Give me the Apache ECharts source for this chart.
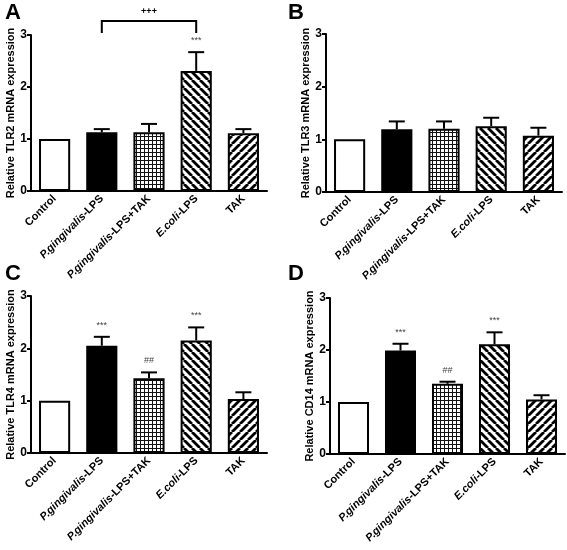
<!DOCTYPE html>
<html>
<head>
<meta charset="utf-8">
<script src="https://cdn.jsdelivr.net/npm/echarts@6/dist/echarts.min.js"></script>
<style>html,body{margin:0;padding:0;background:#fff;}#c{width:567px;height:550px;}</style>
</head>
<body>
<div id="c"></div>
<script>
// ---- data ----
const categories = ['Control', 'P.gingivalis-LPS', 'P.gingivalis-LPS+TAK', 'E.coli-LPS', 'TAK'];
const tlr2 = [1.00, 1.13, 1.13, 2.31, 1.11];
const tlr2Err = [0, 0.06, 0.16, 0.36, 0.08];
const tlr2Marks = ['', '', '', '***', ''];
const tlr3 = [1.00, 1.19, 1.20, 1.25, 1.07];
const tlr3Err = [0, 0.15, 0.14, 0.16, 0.15];
const tlr3Marks = ['', '', '', '', ''];
const tlr4 = [1.00, 2.05, 1.43, 2.15, 1.03];
const tlr4Err = [0, 0.17, 0.11, 0.25, 0.13];
const tlr4Marks = ['', '***', '##', '***', ''];
const cd14 = [1.00, 1.99, 1.35, 2.11, 1.05];
const cd14Err = [0, 0.13, 0.04, 0.23, 0.08];
const cd14Marks = ['', '***', '##', '***', ''];
const yTitles = ['Relative TLR2 mRNA expression', 'Relative TLR3 mRNA expression',
                 'Relative TLR4 mRNA expression', 'Relative CD14 mRNA expression'];
const panelLetters = ['A', 'B', 'C', 'D'];
const bracketA = { from: 1, to: 3, top: 3.27, bottom: 3.04, text: '+++' };

// ---- patterns ----
function stripe(dir) {
  const s = 8, c = document.createElement('canvas');
  c.width = s; c.height = s;
  const g = c.getContext('2d');
  g.fillStyle = '#fff'; g.fillRect(0, 0, s, s);
  g.strokeStyle = '#000'; g.lineWidth = 2.8;
  for (const x0 of [-s, 0, s]) {
    g.beginPath();
    if (dir === 'back') { g.moveTo(x0, 0); g.lineTo(x0 + s, s); }
    else { g.moveTo(x0, s); g.lineTo(x0 + s, 0); }
    g.stroke();
  }
  return { image: c, repeat: 'repeat' };
}
function gridPat() {
  const s = 4, c = document.createElement('canvas');
  c.width = s; c.height = s;
  const g = c.getContext('2d');
  g.fillStyle = '#fff'; g.fillRect(0, 0, s, s);
  g.fillStyle = '#111';
  g.fillRect(0, 0, s, 1); g.fillRect(0, 0, 1, s);
  return { image: c, repeat: 'repeat' };
}
const fills = ['#ffffff', '#000000', gridPat(), stripe('back'), stripe('fwd')];

const panels = [
  { vals: tlr2, err: tlr2Err, marks: tlr2Marks, grid: { left: 31, top: 35, width: 236, height: 156 } },
  { vals: tlr3, err: tlr3Err, marks: tlr3Marks, grid: { left: 326, top: 34, width: 236, height: 158 } },
  { vals: tlr4, err: tlr4Err, marks: tlr4Marks, grid: { left: 31, top: 296, width: 236, height: 157 } },
  { vals: cd14, err: cd14Err, marks: cd14Marks, grid: { left: 330, top: 298, width: 235, height: 156 } }
];

const FONT = 'Liberation Sans, Arial, sans-serif';
const grids = [], xAxes = [], yAxes = [], series = [];

panels.forEach((p, i) => {
  grids.push(Object.assign({ containLabel: false }, p.grid));
  xAxes.push({
    type: 'category', gridIndex: i, data: categories,
    axisLine: { lineStyle: { color: '#000', width: 2 } },
    axisTick: { show: false },
    axisLabel: {
      rotate: 45, interval: 0, margin: 6, color: '#000',
      fontFamily: FONT, fontWeight: 'bold', fontSize: 11,
      formatter: v => {
        if (v.startsWith('P.gingivalis')) return '{i|P.gingivalis}' + v.slice(12);
        if (v.startsWith('E.coli')) return '{i|E.coli}' + v.slice(6);
        return v;
      },
      rich: { i: { fontStyle: 'italic', fontWeight: 'bold', fontSize: 11, fontFamily: FONT, color: '#000' } }
    }
  });
  yAxes.push({
    type: 'value', gridIndex: i, min: 0, max: 3, interval: 1,
    name: yTitles[i], nameLocation: 'middle', nameGap: 14,
    nameTextStyle: { fontFamily: FONT, fontWeight: 'bold', fontSize: 11, color: '#000' },
    splitLine: { show: false },
    axisLine: { show: true, lineStyle: { color: '#000', width: 2 } },
    axisTick: { show: true, length: 4, lineStyle: { color: '#000', width: 2 } },
    axisLabel: { color: '#000', fontFamily: FONT, fontWeight: 'bold', fontSize: 12, margin: 4 }
  });
  series.push({
    type: 'bar', xAxisIndex: i, yAxisIndex: i, barWidth: '66%',
    data: p.vals.map((v, k) => ({ value: v, itemStyle: { color: fills[k], borderColor: '#000', borderWidth: 2 } })),
    animation: false, z: 2
  });
  series.push({
    type: 'custom', xAxisIndex: i, yAxisIndex: i, z: 3, animation: false,
    data: p.vals.map((v, k) => [k, v, p.err[k], p.marks[k]]),
    renderItem: (params, api) => {
      const idx = params.dataIndex;
      const k = api.value(0), v = api.value(1), e = api.value(2);
      const mark = p.marks[idx];
      const children = [];
      const p0 = api.coord([k, v]);
      const p1 = api.coord([k, v + e]);
      if (e > 0) {
        children.push({ type: 'line', shape: { x1: p0[0], y1: p0[1], x2: p1[0], y2: p1[1] }, style: { stroke: '#000', lineWidth: 2 } });
        children.push({ type: 'line', shape: { x1: p1[0] - 8, y1: p1[1], x2: p1[0] + 8, y2: p1[1] }, style: { stroke: '#000', lineWidth: 2 } });
      }
      if (mark) {
        children.push({ type: 'text', style: { text: mark, x: p1[0], y: p1[1] - 7, align: 'center', verticalAlign: 'bottom', fill: '#444', font: '9px ' + FONT } });
      }
      return { type: 'group', children };
    }
  });
});

// bracket in panel A
series.push({
  type: 'custom', xAxisIndex: 0, yAxisIndex: 0, z: 3, animation: false, clip: false,
  data: [[bracketA.from, bracketA.to, bracketA.top, bracketA.bottom]],
  renderItem: (params, api) => {
    const a = api.coord([api.value(0), api.value(2)]);
    const b = api.coord([api.value(1), api.value(2)]);
    const yb = api.coord([api.value(0), api.value(3)])[1];
    return { type: 'group', children: [
      { type: 'polyline', shape: { points: [[a[0], yb], [a[0], a[1]], [b[0], b[1]], [b[0], yb]] }, style: { stroke: '#000', lineWidth: 2, fill: null } },
      { type: 'text', style: { text: bracketA.text, x: (a[0] + b[0]) / 2, y: a[1] - 5, align: 'center', verticalAlign: 'bottom', fill: '#000', font: 'bold 9px ' + FONT } }
    ] };
  }
});

const letterPos = [[5, 2], [288, 2], [5, 263], [288, 263]];
const graphic = panelLetters.map((t, i) => ({
  type: 'text', left: letterPos[i][0], top: letterPos[i][1],
  style: { text: t, font: 'bold 22px ' + FONT, fill: '#000' }
}));

const chart = echarts.init(document.getElementById('c'), null, { renderer: 'canvas' });
chart.setOption({ backgroundColor: '#fff', animation: false, grid: grids, xAxis: xAxes, yAxis: yAxes, series, graphic });
</script>
</body>
</html>
